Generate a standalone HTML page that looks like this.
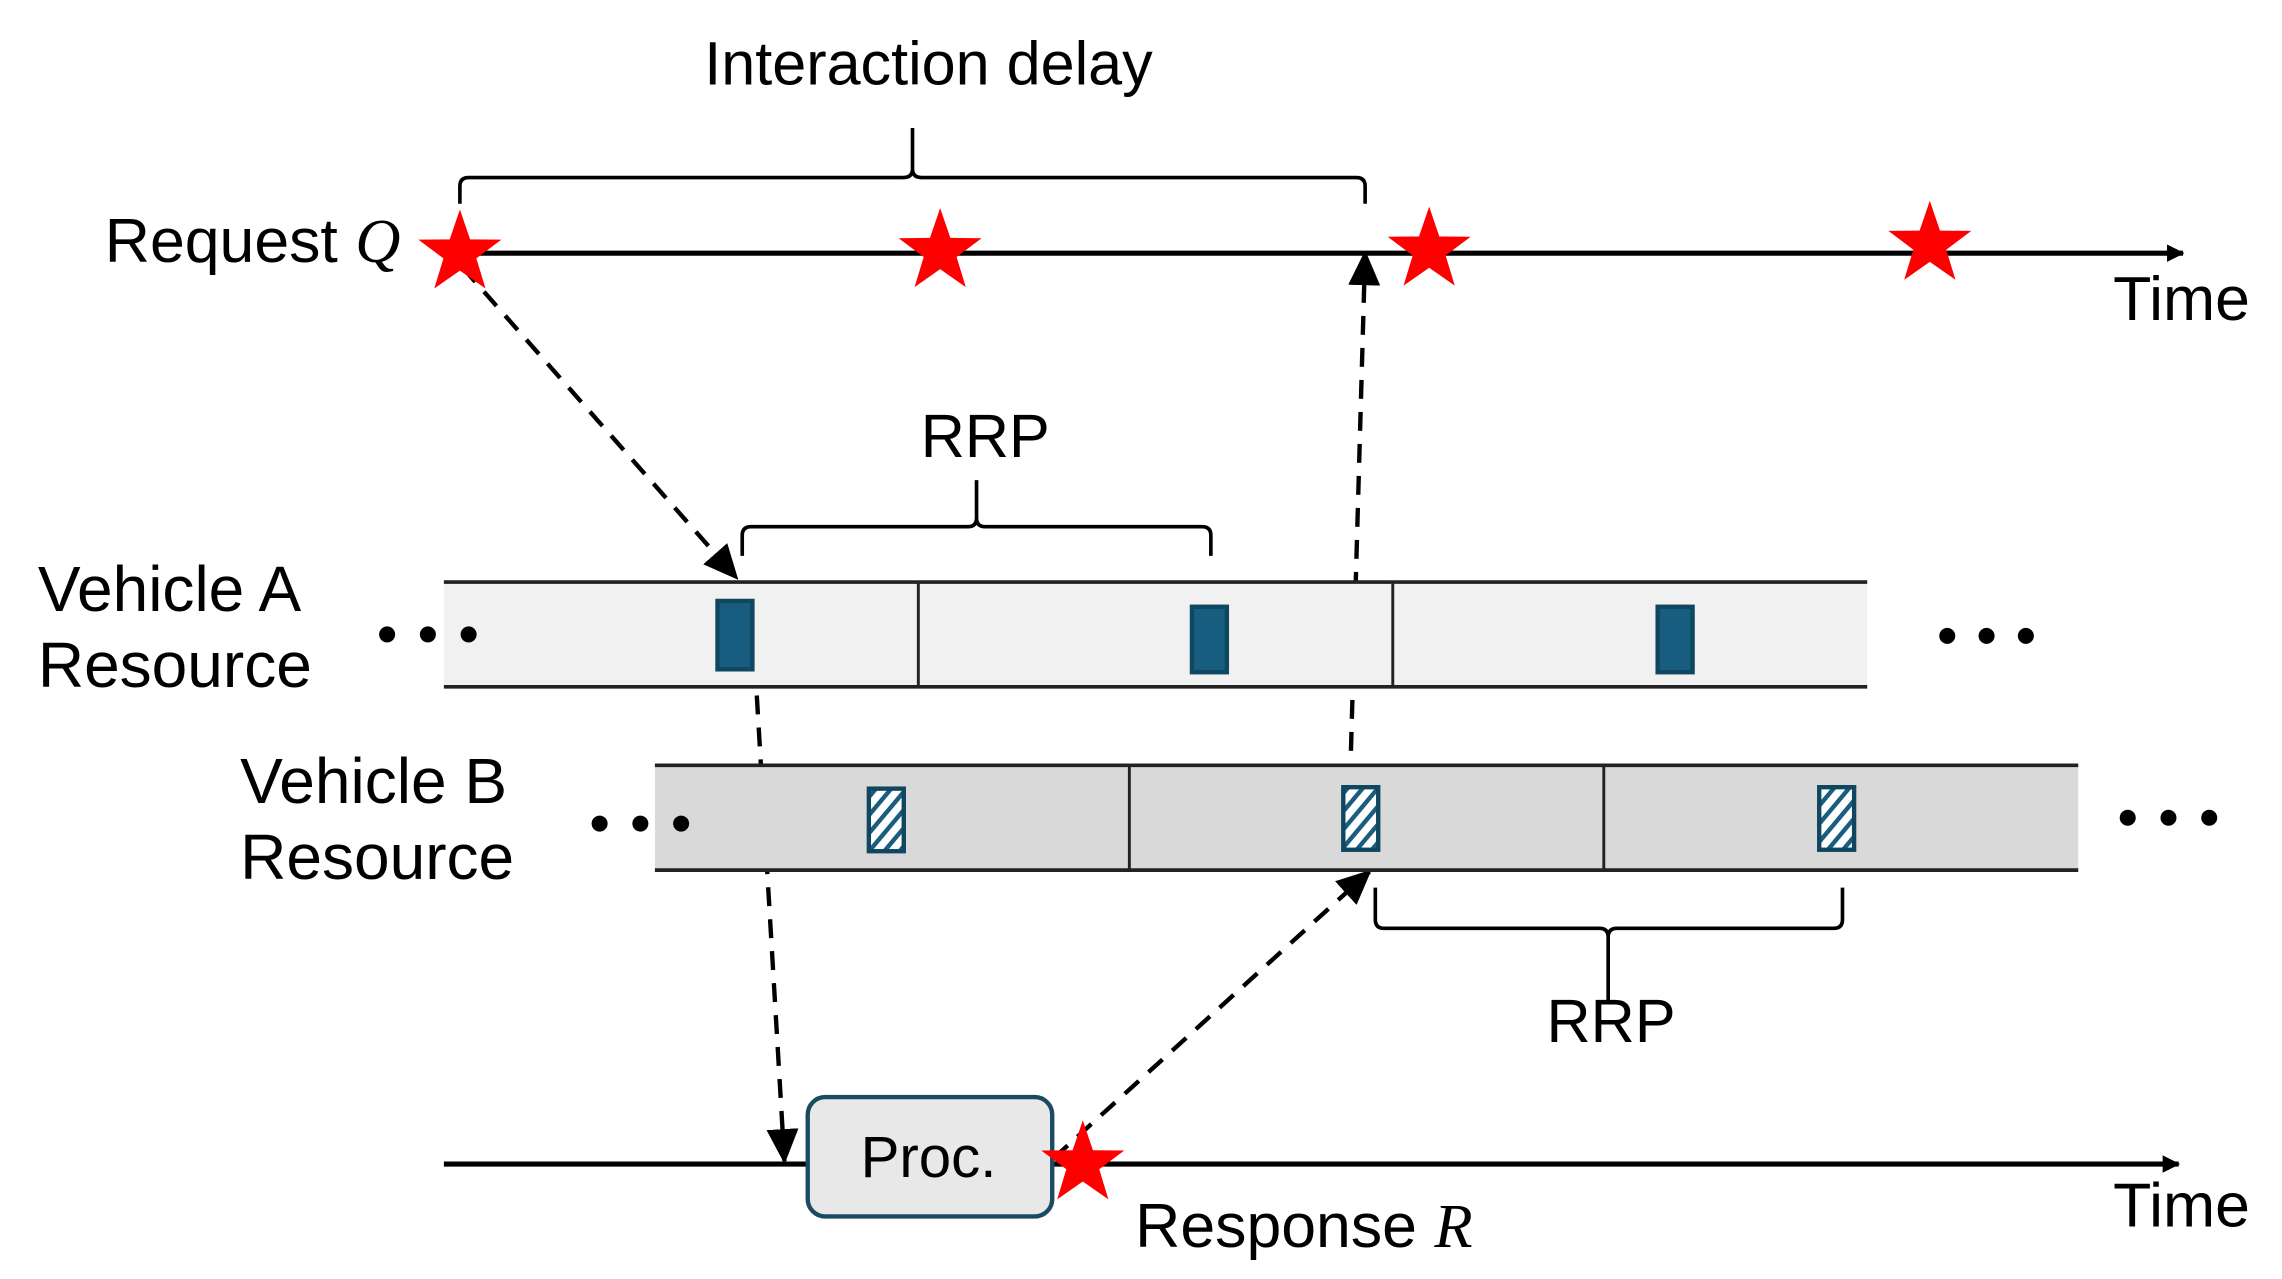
<!DOCTYPE html>
<html><head><meta charset="utf-8"><style>html,body{margin:0;padding:0;background:#fff}svg{display:block}</style></head>
<body>
<svg width="2282" height="1279" viewBox="0 0 1568 879" preserveAspectRatio="none" xmlns="http://www.w3.org/2000/svg" font-family="Liberation Sans, sans-serif">
<defs>
<pattern id="h" width="8" height="8" patternUnits="userSpaceOnUse" patternTransform="rotate(40)">
<rect width="8" height="8" fill="#fff"/><rect width="3" height="8" fill="#1a5d7e"/>
</pattern>
<marker id="ar" markerWidth="12" markerHeight="12" refX="11" refY="6" orient="auto" markerUnits="userSpaceOnUse" viewBox="0 0 12 12"><path d="M0,0 L12,6 L0,12 z" fill="#000"/></marker>
<marker id="ah" markerWidth="24" markerHeight="22" refX="22" refY="11" orient="auto" markerUnits="userSpaceOnUse"><path d="M0,0 L24,11 L0,22 z" fill="#000"/></marker>
<g id="star"><polygon points="0,-30 7,-9.5 28.5,-9.3 11.3,3.6 17.6,24.3 0,12 -17.6,24.3 -11.3,3.6 -28.5,-9.3 -7,-9.5" fill="#ff0000"/></g>
</defs>

<text x="638" y="58" font-size="42" text-anchor="middle">Interaction delay</text>
<path d="M316,140 L316,128 Q316,122 322,122 L621,122 Q627,122 627,116 L627,88 M627,116 Q627,122 633,122 L932,122 Q938,122 938,128 L938,140" fill="none" stroke="#000" stroke-width="2.5"/>

<text x="72" y="180" font-size="43">Request <tspan font-family="Liberation Serif, serif" font-style="italic">Q</tspan></text>
<line x1="305" y1="174" x2="1500" y2="174" stroke="#000" stroke-width="3.5" marker-end="url(#ar)"/>
<text x="1452" y="220" font-size="43">Time</text>

<text x="677" y="314" font-size="42" text-anchor="middle">RRP</text>
<path d="M510,382 L510,368 Q510,362 516,362 L665,362 Q671,362 671,356 L671,330 M671,356 Q671,362 677,362 L826,362 Q832,362 832,368 L832,382" fill="none" stroke="#000" stroke-width="2.5"/>

<g stroke="#000" stroke-width="3" stroke-dasharray="13,9" fill="none">
<line x1="318" y1="184" x2="506" y2="397" marker-end="url(#ah)"/>
<line x1="520" y1="478" x2="539" y2="798" marker-end="url(#ah)"/>
<line x1="927" y1="560" x2="938" y2="174" marker-end="url(#ah)"/>
<line x1="724" y1="796" x2="941" y2="599" marker-end="url(#ah)"/>
</g>

<text x="26" y="420" font-size="44">Vehicle A</text>
<text x="26" y="472" font-size="44">Resource</text>
<rect x="305" y="400" width="978" height="72" fill="#f1f1f1"/>
<g stroke="#222" stroke-width="2.5"><line x1="305" y1="400" x2="1283" y2="400"/><line x1="305" y1="472" x2="1283" y2="472"/>
<line x1="631" y1="400" x2="631" y2="472" stroke-width="2"/><line x1="957" y1="400" x2="957" y2="472" stroke-width="2"/></g>
<g fill="#175d80" stroke="#0f4660" stroke-width="3"><rect x="493" y="413" width="24" height="47"/><rect x="819" y="417" width="24" height="45"/><rect x="1139" y="417" width="24" height="45"/></g>

<text x="165" y="552" font-size="44">Vehicle B</text>
<text x="165" y="604" font-size="44">Resource</text>
<rect x="450" y="526" width="978" height="72" fill="#d9d9d9"/>
<g stroke="#222" stroke-width="2.5"><line x1="450" y1="526" x2="1428" y2="526"/><line x1="450" y1="598" x2="1428" y2="598"/>
<line x1="776" y1="526" x2="776" y2="598" stroke-width="2"/><line x1="1102" y1="526" x2="1102" y2="598" stroke-width="2"/></g>
<g fill="url(#h)" stroke="#0f4660" stroke-width="3"><rect x="597" y="542" width="24" height="43"/><rect x="923" y="541" width="24" height="43"/><rect x="1250" y="541" width="24" height="43"/></g>

<g fill="#000"><circle cx="266" cy="436" r="5.5"/><circle cx="294" cy="436" r="5.5"/><circle cx="322" cy="436" r="5.5"/>
<circle cx="1338" cy="437" r="5.5"/><circle cx="1365" cy="437" r="5.5"/><circle cx="1392" cy="437" r="5.5"/>
<circle cx="412" cy="566" r="5.5"/><circle cx="440" cy="566" r="5.5"/><circle cx="468" cy="566" r="5.5"/>
<circle cx="1462" cy="562" r="5.5"/><circle cx="1490" cy="562" r="5.5"/><circle cx="1518" cy="562" r="5.5"/></g>

<path d="M945,610 L945,632 Q945,638 951,638 L1099,638 Q1105,638 1105,644 L1105,690 M1105,644 Q1105,638 1111,638 L1260,638 Q1266,638 1266,632 L1266,610" fill="none" stroke="#000" stroke-width="2.5"/>
<text x="1107" y="716" font-size="42" text-anchor="middle">RRP</text>

<line x1="305" y1="800" x2="1497" y2="800" stroke="#000" stroke-width="3.5" marker-end="url(#ar)"/>
<rect x="555" y="754" width="168" height="82" rx="12" fill="#e8e8e8" stroke="#1b4a63" stroke-width="3"/>
<text x="638" y="809" font-size="40" text-anchor="middle">Proc.</text>
<text x="780" y="857" font-size="43">Response <tspan font-family="Liberation Serif, serif" font-style="italic">R</tspan></text>
<text x="1452" y="843" font-size="43">Time</text>

<use href="#star" x="316" y="174"/>
<use href="#star" x="646" y="173"/>
<use href="#star" x="982" y="172"/>
<use href="#star" x="1326" y="168"/>
<use href="#star" x="744" y="800"/>
</svg>
</body></html>
